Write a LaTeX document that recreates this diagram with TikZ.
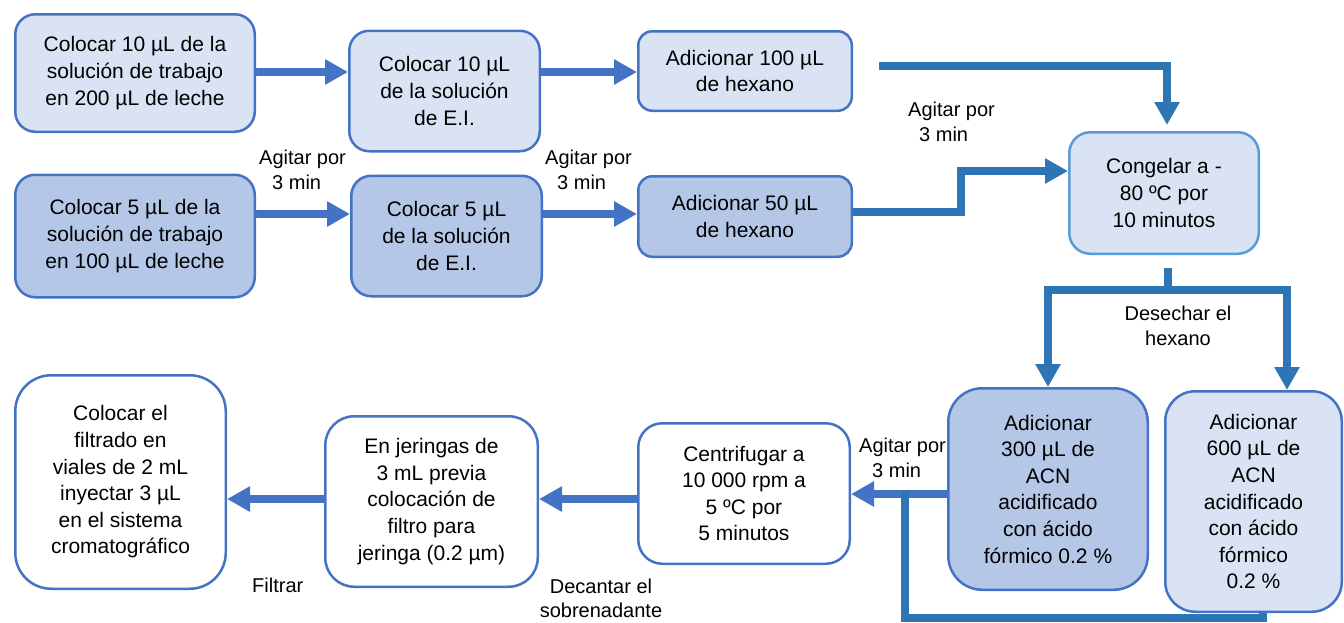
\documentclass[tikz,border=0pt]{standalone}
\usepackage{fontspec}
\setmainfont{Liberation Sans}
\usetikzlibrary{arrows.meta}
\definecolor{edgeblue}{HTML}{4472C4}
\definecolor{linkblue}{HTML}{2E75B6}
\definecolor{paleblue}{HTML}{DAE3F3}
\definecolor{midblue}{HTML}{B4C7E7}
\definecolor{skyedge}{HTML}{5B9BD5}

\tikzset{
  stepbox/.style={draw=edgeblue, line width=2.5pt, inner sep=0pt, align=center,
                  font=\fontsize{21}{26.6}\selectfont},
  pale/.style={fill=paleblue},
  mid/.style={fill=midblue},
  plain/.style={fill=white},
  harrow/.style={draw=edgeblue, line width=8pt, -{Triangle[length=23pt,width=24pt]}},
  earrow/.style={draw=linkblue, line width=8pt, -{Triangle[length=23pt,width=24pt]}},
  eline/.style={draw=linkblue, line width=8pt},
  note/.style={inner sep=0pt, align=left, font=\fontsize{20}{25.5}\selectfont},
}

\begin{document}
\begin{tikzpicture}[x=1pt,y=-1pt]
\useasboundingbox (0,0) rectangle (1344,622);

% --- first series (10 uL) ---
\node[stepbox,pale,minimum width=239.5pt,minimum height=117.5pt,rounded corners=20pt] (A1) at (135,73)
  {Colocar 10 µL de la\\solución de trabajo\\en 200 µL de leche};
\node[stepbox,pale,minimum width=190.5pt,minimum height=120.5pt,rounded corners=20pt] (A2) at (444.5,91)
  {Colocar 10 µL\\de la solución\\de E.I.};
\node[stepbox,pale,minimum width=213.5pt,minimum height=79.5pt,rounded corners=14pt] (A3) at (745,71)
  {Adicionar 100 µL\\de hexano};

% --- second series (5 uL) ---
\node[stepbox,mid,minimum width=239.5pt,minimum height=122.5pt,rounded corners=20pt] (B1) at (135,236)
  {Colocar 5 µL de la\\solución de trabajo\\en 100 µL de leche};
\node[stepbox,mid,minimum width=190.5pt,minimum height=120.5pt,rounded corners=20pt] (B2) at (446.5,236)
  {Colocar 5 µL\\de la solución\\de E.I.};
\node[stepbox,mid,minimum width=213.5pt,minimum height=80.5pt,rounded corners=14pt] (B3) at (745,216.5)
  {Adicionar 50 µL\\de hexano};

% --- freezing ---
\node[stepbox,pale,draw=skyedge,minimum width=189.5pt,minimum height=121.5pt,rounded corners=21pt] (C) at (1164,193)
  {Congelar a -\\80 ºC por\\10 minutos};

% --- acetonitrile ---
\node[stepbox,mid,minimum width=199.5pt,minimum height=201.5pt,rounded corners=34pt] (D1) at (1048,489)
  {Adicionar\\300 µL de\\ACN\\acidificado\\con ácido\\fórmico 0.2 \%};
\node[stepbox,pale,minimum width=176.5pt,minimum height=220.5pt,rounded corners=30pt] (D2) at (1253.5,501.5)
  {Adicionar\\600 µL de\\ACN\\acidificado\\con ácido\\fórmico\\0.2 \%};

% --- bottom row ---
\node[stepbox,plain,minimum width=211.5pt,minimum height=140.5pt,rounded corners=24pt] (E) at (744,493.5)
  {Centrifugar a\\10 000 rpm a\\5 ºC por\\5 minutos};
\node[stepbox,plain,minimum width=212.5pt,minimum height=170.5pt,rounded corners=29pt] (F) at (431.5,501.5)
  {En jeringas de\\3 mL previa\\colocación de\\filtro para\\jeringa (0.2 µm)};
\node[stepbox,plain,minimum width=210.5pt,minimum height=213.5pt,rounded corners=36pt] (G) at (120.5,482)
  {Colocar el\\filtrado en\\viales de 2 mL\\inyectar 3 µL\\en el sistema\\cromatográfico};

% --- arrow levels ---
\coordinate (rowA) at (0,72);
\coordinate (rowB) at (0,214);
\coordinate (rowD) at (0,494);
\coordinate (rowE) at (0,499);

% --- straight arrows ---
\draw[harrow] (A1.east |- rowA) -- (A2.west |- rowA);
\draw[harrow] (A2.east |- rowA) -- (A3.west |- rowA);
\draw[harrow] (B1.east |- rowB) -- (B2.west |- rowB);
\draw[harrow] (B2.east |- rowB) -- (B3.west |- rowB);
\draw[harrow] (D1.west |- rowD) -- (E.east |- rowD);
\draw[harrow] (E.west |- rowE) -- (F.east |- rowE);
\draw[harrow] (F.west |- rowE) -- (G.east |- rowE);

% --- elbow connectors into and out of the freezing step ---
\coordinate (hexA) at (879,66);
\draw[earrow] (hexA) -| ([xshift=3pt,yshift=6pt]C.north);
\draw[earrow] (B3.east |- 0,212) -| (961,171) -- (C.west |- 0,171);
\coordinate (split) at (1168,268);
\draw[eline] (split) -- (1168,290);
\draw[earrow] (1168,290) -| (D1.north);
\draw[earrow] (1168,290) -| ([xshift=33.5pt]D2.north);

% --- return line from the 600 uL step ---
\draw[eline] ([xshift=9.5pt]D2.south) |- (905,618) -- (905,490);

% --- step notes ---
\node[note,anchor=north west] (n1) at (259,149.6) {Agitar por\\\hspace*{13pt}3 min};
\node[note,anchor=north west] (n2) at (545,149.6) {Agitar por\\\hspace*{12pt}3 min};
\node[note,anchor=north west] (n3) at (908,101.6) {Agitar por\\\hspace*{11pt}3 min};
\node[note,anchor=north west] (n4) at (859,437.6) {Agitar por\\\hspace*{13pt}3 min};
\node[note,align=center,anchor=north] (n5) at (1178,305.6) {Desechar el\\hexano};
\node[note,anchor=north west] (n6) at (252,577.6) {Filtrar};
\node[note,align=center,anchor=north,font=\fontsize{20}{24}\selectfont] (n7) at (601,579) {Decantar el\\sobrenadante};
\end{tikzpicture}
\end{document}
